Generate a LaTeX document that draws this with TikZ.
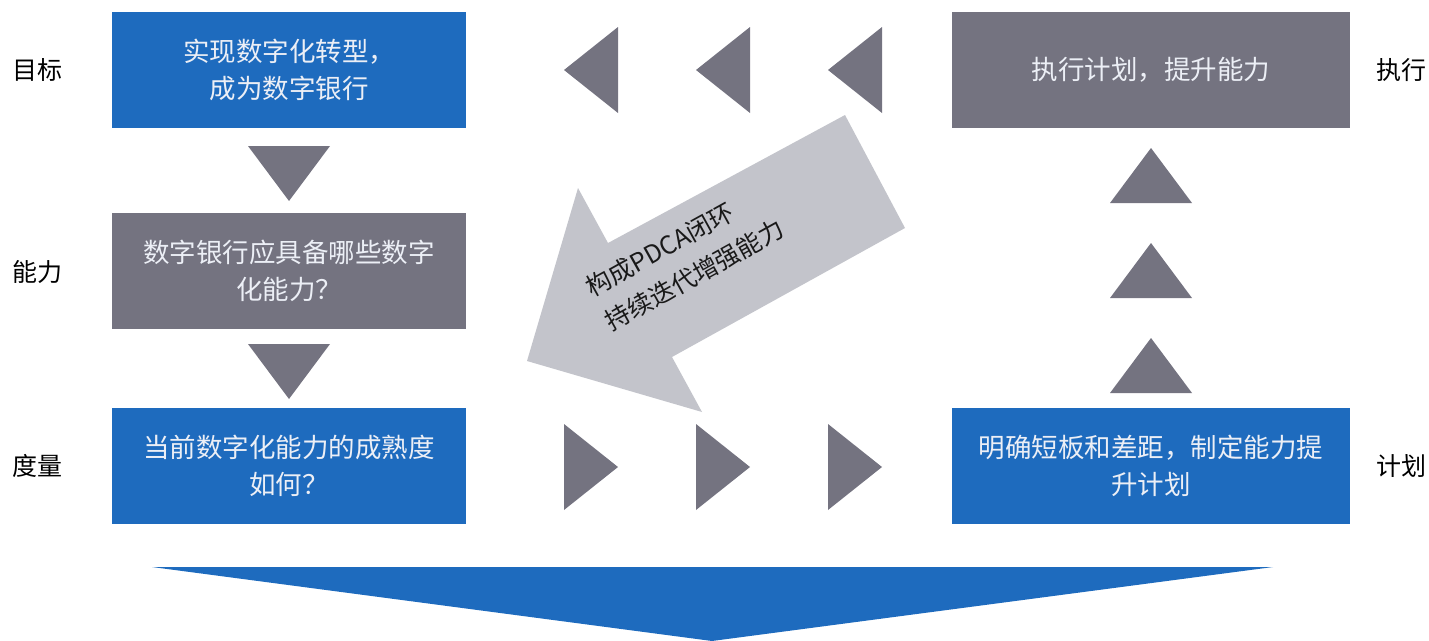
\documentclass[tikz,border=0pt]{standalone}
\usepackage{fontspec}
\setmainfont{Noto Sans CJK SC}
\definecolor{bankblue}{RGB}{30,107,190}
\definecolor{slate}{RGB}{116,115,128}
\definecolor{mist}{RGB}{195,196,203}
\definecolor{boxtext}{RGB}{236,239,246}
\begin{document}
\begin{tikzpicture}[x=1pt,y=-1pt,
  stage/.style={minimum width=354pt,minimum height=116pt,inner sep=0pt,
    align=center,text=boxtext,font=\fontsize{26.5}{37}\selectfont},
  bluestage/.style={stage,fill=bankblue},
  graystage/.style={stage,fill=slate},
  sidelabel/.style={font=\fontsize{25}{28}\selectfont,text=black,inner sep=0pt},
  tri/.style={fill=slate}]
\useasboundingbox (0,0) rectangle (1429,640);

% left column: goal -> capability -> measurement
\node[bluestage,anchor=north west] (goal) at (112,12) {实现数字化转型，\\ 成为数字银行};
\node[graystage,anchor=north west] (ability) at (112,213) {数字银行应具备哪些数字\\化能力？};
\node[bluestage,anchor=north west] (measure) at (112,408) {当前数字化能力的成熟度\\如何？};

% right column: plan -> execute
\node[graystage,anchor=north west,minimum width=398pt] (execute) at (952,12) {执行计划，提升能力};
\node[bluestage,anchor=north west,minimum width=398pt] (plan) at (952,408) {明确短板和差距，制定能力提\\升计划};

% row labels
\node[sidelabel] (lgoal) at (37.5,70) {目标};
\node[sidelabel] (lability) at (37.5,272) {能力};
\node[sidelabel] (lmeasure) at (37.5,466) {度量};
\node[sidelabel] (lexecute) at (1401,70) {执行};
\node[sidelabel] (lplan) at (1401,466) {计划};

% downward markers in the left column
\foreach \y in {146,344}
  \fill[tri] (248,\y) -- (330,\y) -- (289,\y+55) -- cycle;

% upward markers in the right column
\foreach \y in {148,243,338}
  \fill[tri] (1151,\y) -- (1192,\y+55) -- (1110,\y+55) -- cycle;

% leftward markers along the top row
\foreach \x in {564,696,828}
  \fill[tri] (\x,70) -- (\x+54,27) -- (\x+54,113) -- cycle;

% rightward markers along the bottom row
\foreach \x in {564,696,828}
  \fill[tri] (\x,424) -- (\x+54,467) -- (\x,510) -- cycle;

% the PDCA loop-back arrow
\fill[mist] (845,115) -- (905,228) -- (672,357) -- (702,412) -- (527,361)
  -- (578,188) -- (608,243) -- cycle;
\node[rotate=29,align=left,text=black!90,inner sep=0pt,
  font=\fontsize{25}{39}\selectfont] (loop) at (685,258)
  {构成PDCA闭环\\持续迭代增强能力};

% wide outcome arrow at the bottom
\fill[bankblue] (152,567) -- (1273,567) -- (712,641) -- cycle;
\end{tikzpicture}
\end{document}
